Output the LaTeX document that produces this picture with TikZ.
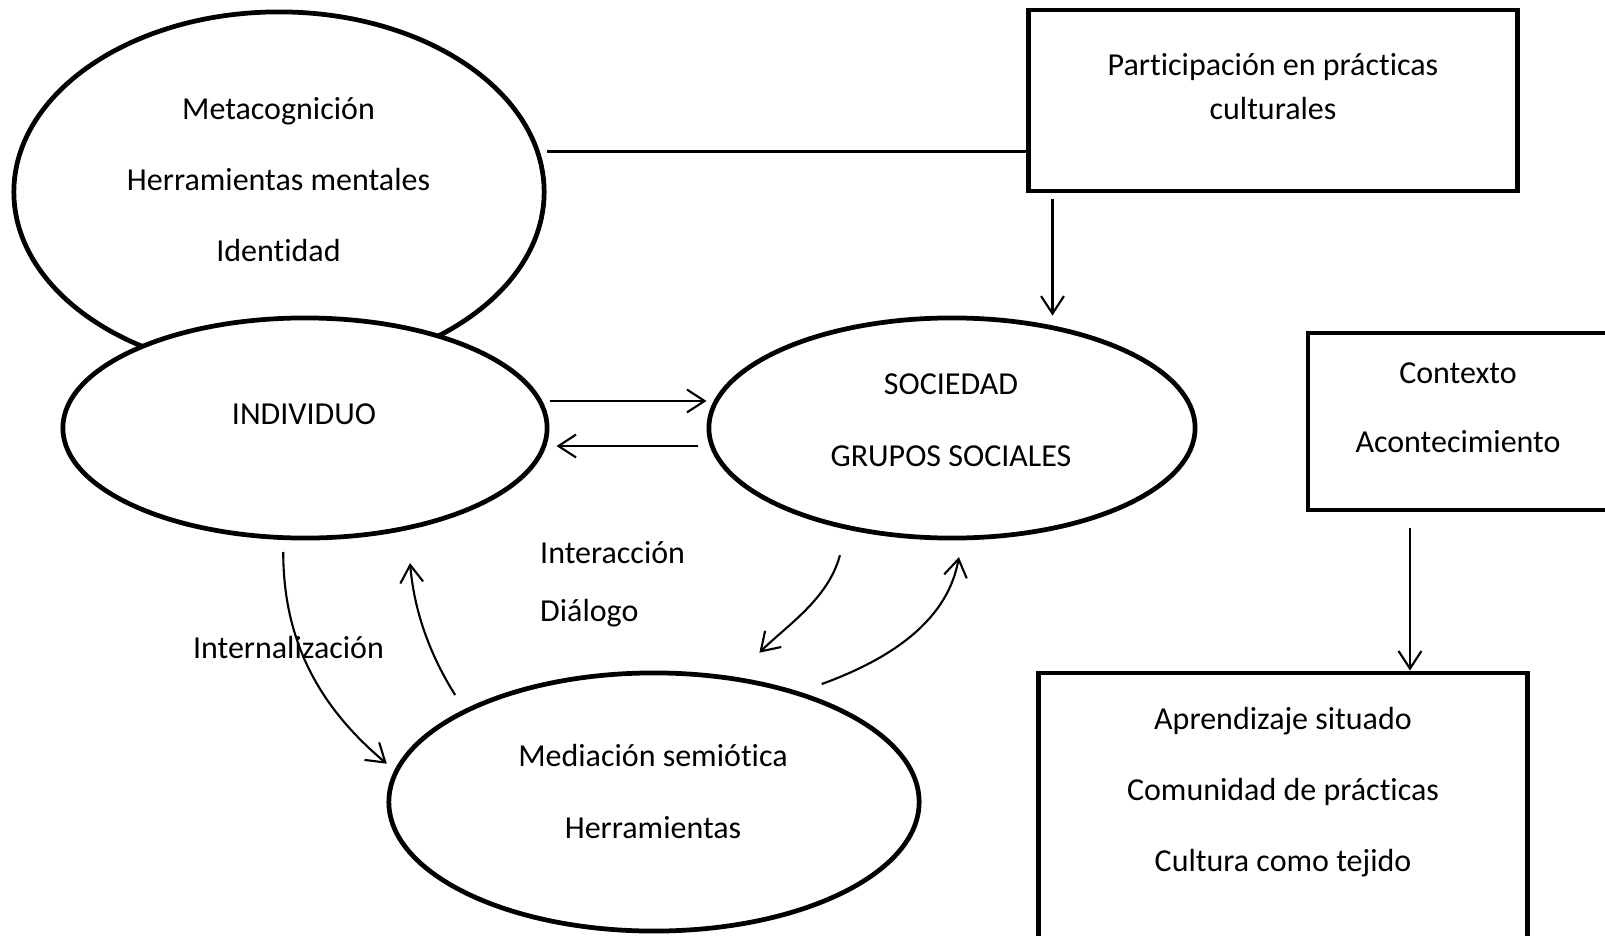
\documentclass[tikz,border=0pt]{standalone}
\usepackage{fontspec}
\setmainfont{Carlito}[Ligatures = NoCommon]
\usetikzlibrary{shapes,arrows.meta}

\begin{document}
\begin{tikzpicture}[x = 0.01cm, y = 0.01cm,
	font = \fontsize{9.1}{20.2}\selectfont,
	oval/.style = {draw, ellipse, line width = 1.35pt, inner sep = 0},
	frame/.style = {draw, rectangle, line width = 1.35pt, inner sep = 0},
	txt/.style = {align = center, inner sep = 0},
	link/.style = {line width = 0.6pt},
	arr/.style = {link, -{Straight Barb[length = 5pt, width = 6.5pt]}}]
\useasboundingbox (0,0) rectangle (1605,935);
\node [oval, minimum width = 5.3cm, minimum height = 3.6cm] (meta) at (279,743) {};
\node [oval, fill = white, minimum width = 4.84cm, minimum height = 2.2cm] (ind) at (305,507) {};
\node [oval, minimum width = 4.86cm, minimum height = 2.2cm] (soc) at (952,507) {};
\node [oval, minimum width = 5.3cm, minimum height = 2.58cm] (med) at (654,133) {};
\node [frame, minimum width = 4.88cm, minimum height = 1.81cm] (part) at (1273,834.5) {};
\node [frame, minimum width = 3cm, minimum height = 1.77cm] (ctx) at (1458,513.5) {};
\node [frame, minimum width = 4.88cm, minimum height = 2.9cm] (apr) at (1283,117) {};
\node [txt] (metatxt) at (278.5,755) {Metacognición\\Herramientas mentales\\Identidad};
\node [txt] (indtxt) at (304,521) {INDIVIDUO};
\node [txt, font = \fontsize{9.1}{20.6}\selectfont] (soctxt) at (951,515) {SOCIEDAD\\GRUPOS SOCIALES};
\node [txt] (medtxt) at (653,143.5) {Mediación semiótica\\Herramientas};
\node [txt, font = \fontsize{9.1}{12.5}\selectfont] (parttxt) at (1273,848) {Participación en prácticas\\culturales};
\node [txt, font = \fontsize{9.1}{19.6}\selectfont] (ctxtxt) at (1458,527) {Contexto\\Acontecimiento};
\node [txt] (aprtxt) at (1283,142.5) {Aprendizaje situado\\Comunidad de prácticas\\Cultura como tejido};
\node [txt, align = left, anchor = west, font = \fontsize{9.1}{16.5}\selectfont] (inter) at (539.5,351) {Interacción\\Diálogo};
\node [txt] (intern) at (288.5,288) {Internalización};
\coordinate (mp) at ([yshift = 0.405cm]meta.east);
\draw [link] (mp) -- (mp -| part.west);
\coordinate (ps) at ([xshift = 0.26cm, yshift = -0.06cm]part.south west);
\draw [arr] (ps) -- (ps |- soc.north);
\coordinate (cs) at ([xshift = -0.48cm, yshift = -0.16cm]ctx.south);
\draw [arr] (cs) -- (cs |- apr.north);
\draw [arr] ([yshift = 0.27cm]ind.east) -- ([yshift = 0.27cm]soc.west);
\draw [arr, shorten <= 0.08cm, shorten >= 0.07cm] ([yshift = -0.18cm]soc.west) -- ([yshift = -0.18cm]ind.east);
\draw [arr, shorten <= 0.12cm, shorten >= 0.1cm] (ind.259) to [out = -90, in = 140] (med.173);
\draw [arr, shorten <= 0.17cm, shorten >= 0.33cm] (med.154) to [out = 122, in = -85] (ind.-45);
\draw [arr, shorten <= 0.265cm, shorten >= 0.34cm] (soc.224) to [out = -105, in = 45] (med.57);
\draw [arr, shorten <= 0.23cm, shorten >= 0.17cm] (med.37) to [out = 20, in = -100] (soc.-85);
\end{tikzpicture}
\end{document}
